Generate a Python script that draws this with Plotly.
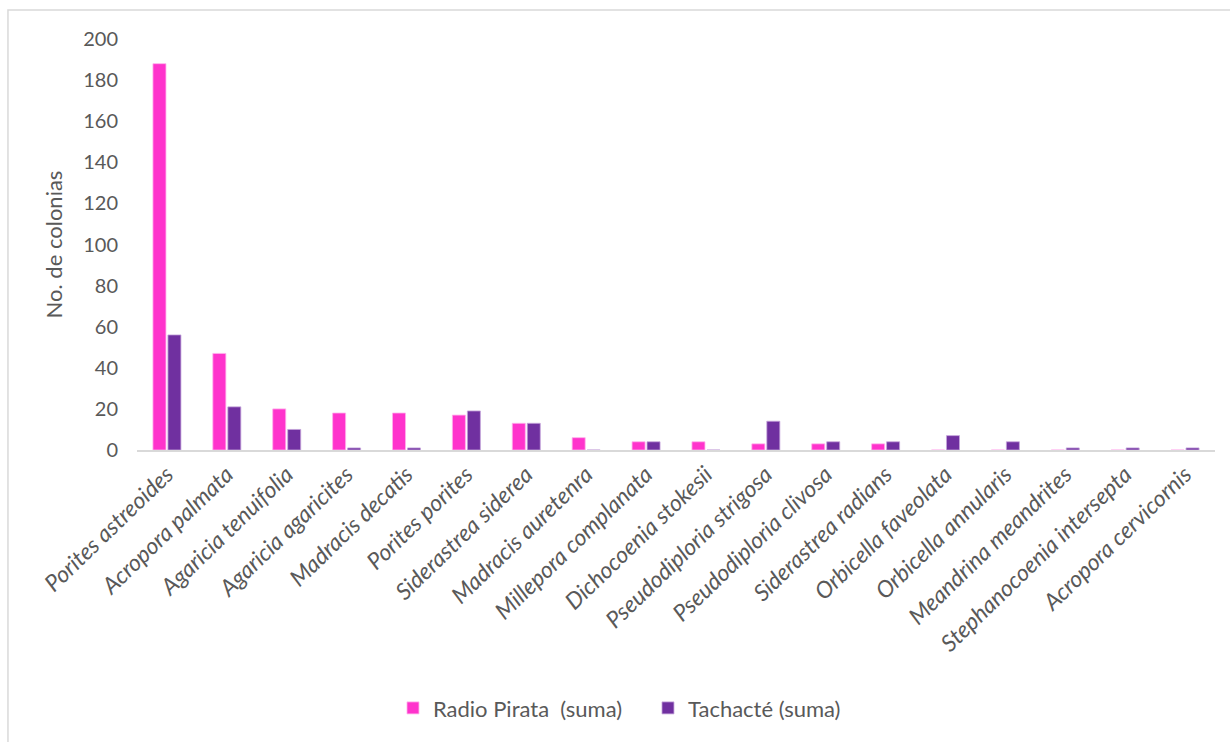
import plotly.graph_objects as go

species = [
    "Porites astreoides", "Acropora palmata", "Agaricia tenuifolia", "Agaricia agaricites",
    "Madracis decatis", "Porites porites", "Siderastrea siderea", "Madracis auretenra",
    "Millepora complanata", "Dichocoenia stokesii", "Pseudodiploria strigosa",
    "Pseudodiploria clivosa", "Siderastrea radians", "Orbicella faveolata",
    "Orbicella annularis", "Meandrina meandrites", "Stephanocoenia intersepta",
    "Acropora cervicornis",
]
radio_pirata = [188, 47, 20, 18, 18, 17, 13, 6, 4, 4, 3, 3, 3, 0, 0, 0, 0, 0]
tachacte = [56, 21, 10, 1, 1, 19, 13, 0, 4, 0, 14, 4, 4, 7, 4, 1, 1, 1]
y_ticks = [0, 20, 40, 60, 80, 100, 120, 140, 160, 180, 200]

FONT = "Lato, 'Open Sans', sans-serif"
GREY = "#595959"

fig = go.Figure()
fig.add_trace(go.Bar(
    x=species, y=radio_pirata, name="Radio Pirata  (suma)",
    marker=dict(color="#FF33CC", line=dict(color="#FFB3EC", width=0.8)),
))
fig.add_trace(go.Bar(
    x=species, y=tachacte, name="Tachacté (suma)",
    marker=dict(color="#7030A0", line=dict(color="#C7A6DC", width=0.8)),
))

fig.update_layout(
    width=1230, height=742, autosize=False,
    margin=dict(l=137, r=15, t=39, b=292, autoexpand=False),
    paper_bgcolor="white", plot_bgcolor="white",
    barmode="group", bargap=0.5, bargroupgap=0.13,
    font=dict(family=FONT, color=GREY, size=21),
    showlegend=True,
    legend=dict(
        orientation="h", x=0.474, xanchor="center",
        y=-0.628, yanchor="middle", font=dict(size=22, color=GREY),
        traceorder="normal", entrywidth=210,
    ),
    shapes=[dict(
        type="rect", xref="paper", yref="paper",
        x0=-0.1197, x1=1.2, y0=-1.0, y1=1.0706,
        line=dict(color="#D9D9D9", width=1.5), fillcolor="rgba(0,0,0,0)",
        layer="below",
    )],
)

fig.update_xaxes(
    tickangle=-44, showline=True, linecolor="#D9D9D9", linewidth=2,
    showgrid=False, ticks="", automargin=False,
    tickfont=dict(family=FONT, size=23, color=GREY, style="italic"),
)
fig.update_yaxes(
    range=[0, 200], tickvals=y_ticks, showgrid=False, zeroline=False,
    showline=False, ticks="", ticklabelstandoff=18, automargin=False,
    tickfont=dict(family=FONT, size=20, color=GREY),
    title=dict(text="No. de colonias", standoff=14, font=dict(size=22, color=GREY)),
)

fig.write_html("out.html")
